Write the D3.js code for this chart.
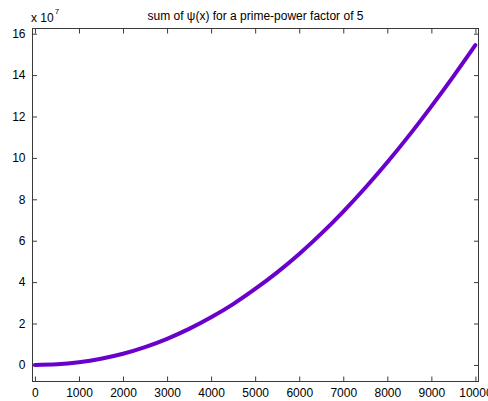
<!DOCTYPE html>
<html>
<head>
<meta charset="utf-8">
<script src="https://cdn.jsdelivr.net/npm/d3@7"></script>
<style>
  html, body { margin: 0; padding: 0; background: #fff; }
  svg { display: block; }
  text { font-family: "Liberation Sans", Arial, Helvetica, sans-serif; fill: #000; }
</style>
</head>
<body>
<svg id="chart" width="488" height="401"></svg>
<script>
// Cumulative sum of psi(x), sampled every 500
const xValues = [0, 500, 1000, 1500, 2000, 2500, 3000, 3500, 4000, 4500, 5000,
                 5500, 6000, 6500, 7000, 7500, 8000, 8500, 9000, 9500, 10000];
const sumValues = [0, 0.3e6, 1.3e6, 3.0e6, 5.4e6, 8.6e6, 12.6e6, 17.4e6, 23.0e6, 29.4e6, 36.7e6,
                   44.7e6, 53.6e6, 63.4e6, 74.1e6, 85.6e6, 97.9e6, 111.0e6, 124.9e6, 139.4e6, 154.5e6];

const xTicks = [0, 1000, 2000, 3000, 4000, 5000, 6000, 7000, 8000, 9000, 10000];
const yTicks = [0, 2e7, 4e7, 6e7, 8e7, 10e7, 12e7, 14e7, 16e7];
const yExponent = 7;
const title = "sum of \u03C8(x) for a prime-power factor of 5";

const box = { left: 32.5, right: 478.5, top: 28.5, bottom: 381.5 };

const svg = d3.select("#chart");

const x = d3.scaleLinear().domain([-55, 10070]).range([box.left, box.right]);
const y = d3.scaleLinear().domain([-0.8e7, 16.25e7]).range([box.bottom, box.top]);

// curve
const points = xValues.map((v, i) => [v, sumValues[i]]);
svg.append("path")
  .datum(points)
  .attr("fill", "none")
  .attr("stroke", "#6a00cc")
  .attr("stroke-width", 4)
  .attr("stroke-linecap", "round")
  .attr("stroke-linejoin", "round")
  .attr("d", d3.line().x(d => x(d[0])).y(d => y(d[1])).curve(d3.curveMonotoneX));

const axisColor = "#3a3a3a";
function styleAxis(g, showLabels) {
  g.select(".domain").remove();
  g.selectAll(".tick line").attr("stroke", axisColor);
  g.selectAll(".tick text").attr("font-size", 12).style("font-family", '"Liberation Sans", Arial, sans-serif');
  if (!showLabels) g.selectAll(".tick text").remove();
}

// bottom axis with labels, inward ticks
svg.append("g")
  .attr("transform", `translate(0,${box.bottom})`)
  .call(d3.axisBottom(x).tickValues(xTicks).tickSizeInner(-5).tickSizeOuter(0).tickPadding(6.5).tickFormat(d3.format("d")))
  .call(g => styleAxis(g, true));

// top mirror axis
svg.append("g")
  .attr("transform", `translate(0,${box.top})`)
  .call(d3.axisTop(x).tickValues(xTicks).tickSizeInner(-5).tickSizeOuter(0))
  .call(g => styleAxis(g, false));

// left axis with labels
svg.append("g")
  .attr("transform", `translate(${box.left},0)`)
  .call(d3.axisLeft(y).tickValues(yTicks).tickSizeInner(-4.5).tickSizeOuter(0).tickPadding(7)
        .tickFormat(d => d3.format("d")(d / Math.pow(10, yExponent))))
  .call(g => styleAxis(g, true));

// right mirror axis
svg.append("g")
  .attr("transform", `translate(${box.right},0)`)
  .call(d3.axisRight(y).tickValues(yTicks).tickSizeInner(-4.5).tickSizeOuter(0))
  .call(g => styleAxis(g, false));

// frame
svg.append("rect")
  .attr("x", box.left).attr("y", box.top)
  .attr("width", box.right - box.left).attr("height", box.bottom - box.top)
  .attr("fill", "none").attr("stroke", axisColor).attr("stroke-width", 1);

// exponent label
const expLabel = svg.append("text")
  .attr("x", 31).attr("y", 22)
  .attr("font-size", 12);
expLabel.append("tspan").text("x 10");
expLabel.append("tspan").attr("font-size", 8).attr("dy", -8).attr("dx", 1).text(String(yExponent));

// title
svg.append("text")
  .attr("x", (box.left + box.right) / 2).attr("y", 20)
  .attr("text-anchor", "middle")
  .attr("font-size", 12)
  .text(title);
</script>
</body>
</html>
